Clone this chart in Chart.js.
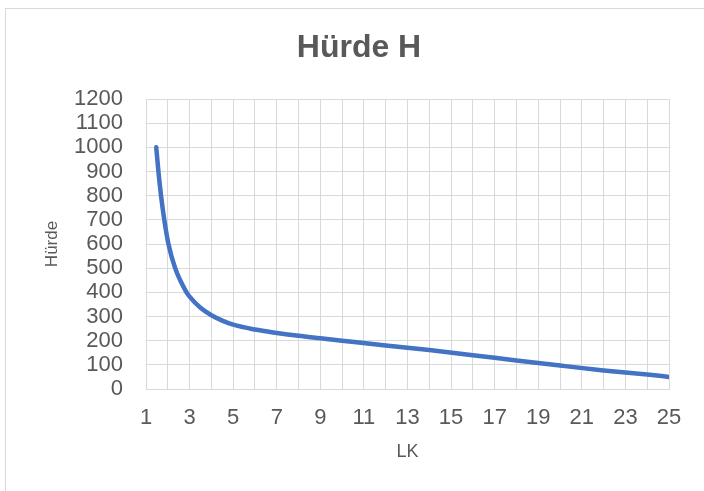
<!DOCTYPE html>
<html>
<head>
<meta charset="utf-8">
<script src="https://cdn.jsdelivr.net/npm/chart.js@4"></script>
<style>
  html, body { margin: 0; padding: 0; background: #fff; }
  #wrap { width: 704px; height: 491px; }
</style>
</head>
<body>
<div id="wrap"><canvas id="chartHuerde" width="704" height="491"></canvas></div>
<script>
// Werte
const lkWerte = [1.47, 1.57, 1.69, 1.84, 2.03, 2.34, 2.84, 3, 3.5, 4, 4.5, 5, 6, 7, 8, 9, 10, 12, 14, 16, 18, 20, 22, 24, 25];
const huerdeWerte = [1000, 900, 800, 700, 600, 500, 403, 382, 336, 305, 283, 266, 246, 232, 220, 210, 200, 180, 161, 140, 118, 97, 77, 60, 50];
const xMin = 1, xMax = 25;
const yMin = 0, yMax = 1200, yStep = 100;
const titelText = 'Hürde H';

const textFarbe = '#595959';
const gitterFarbe = '#d9d9d9';
const schrift = "'Liberation Sans', Arial, sans-serif";

// Rahmen und Titel (Titel über die ganze Fläche zentriert, wie in Excel)
const rahmenPlugin = {
    id: 'rahmen',
    beforeDraw(chart) {
        const ctx = chart.ctx;
        ctx.save();
        ctx.strokeStyle = gitterFarbe;
        ctx.lineWidth = 1;
        ctx.strokeRect(5.5, 8.5, chart.width + 20, chart.height + 20);
        ctx.restore();
    },
    afterDraw(chart) {
        const ctx = chart.ctx;
        ctx.save();
        ctx.fillStyle = textFarbe;
        ctx.font = "bold 32px " + schrift;
        ctx.textAlign = 'center';
        ctx.textBaseline = 'middle';
        ctx.fillText(titelText, 359, 48);
        ctx.restore();
    }
};

new Chart(document.getElementById('chartHuerde'), {
    type: 'scatter',
    data: {
        datasets: [{
            label: 'Hürde',
            data: lkWerte.map((x, i) => ({ x: x, y: huerdeWerte[i] })),
            showLine: true,
            borderColor: '#4472c4',
            borderWidth: 4.5,
            pointRadius: 0,
            cubicInterpolationMode: 'monotone',
            borderCapStyle: 'round'
        }]
    },
    options: {
        responsive: false,
        animation: false,
        layout: { padding: { left: 0, right: 35, top: 99, bottom: 22 } },
        plugins: {
            legend: { display: false },
            tooltip: { enabled: false },
            title: { display: false }
        },
        scales: {
            x: {
                type: 'linear',
                min: xMin,
                max: xMax,
                grid: { color: gitterFarbe, lineWidth: 1, drawTicks: false },
                border: { color: gitterFarbe },
                ticks: {
                    stepSize: 1,
                    autoSkip: false,
                    maxRotation: 0,
                    padding: 16,
                    color: textFarbe,
                    font: { family: schrift, size: 22 },
                    callback: v => (v % 2 === 1 ? String(v) : '')
                },
                title: {
                    display: true,
                    text: 'LK',
                    color: textFarbe,
                    font: { family: schrift, size: 18 },
                    padding: { top: 0, bottom: 6 }
                },
                afterFit(scale) { scale.height = 80; }
            },
            y: {
                min: yMin,
                max: yMax,
                grid: { color: gitterFarbe, lineWidth: 1, drawTicks: false },
                border: { display: false },
                ticks: {
                    stepSize: yStep,
                    autoSkip: false,
                    padding: 23,
                    color: textFarbe,
                    font: { family: schrift, size: 22 },
                    callback: v => String(v)
                },
                title: {
                    display: true,
                    text: 'Hürde',
                    color: textFarbe,
                    font: { family: schrift, size: 17 },
                    padding: { top: 42, bottom: 0 }
                },
                afterFit(scale) { scale.width = 146; }
            }
        }
    },
    plugins: [rahmenPlugin]
});
</script>
</body>
</html>
